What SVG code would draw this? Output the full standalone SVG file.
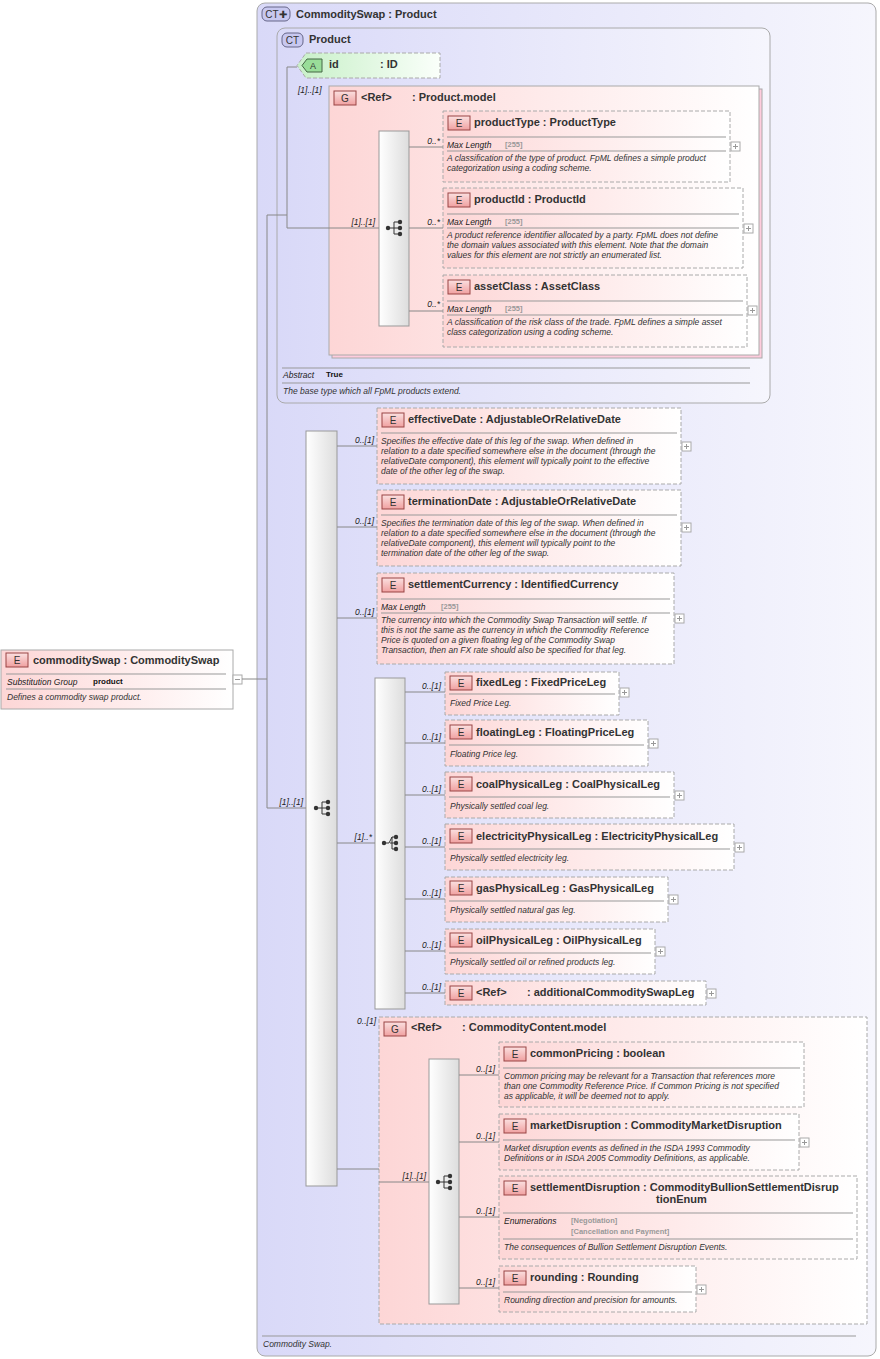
<svg xmlns="http://www.w3.org/2000/svg" width="880" height="1359" viewBox="0 0 880 1359">
<style>
text{font-family:"Liberation Sans",Arial,sans-serif;fill:#333}
.t{font-size:11px;font-weight:bold}
.d{font-size:8.5px;font-style:italic}
.k{font-size:8.5px;font-style:italic;fill:#222}
.v{font-size:7.5px;fill:#999;font-weight:bold}
.vb{font-size:8px;font-weight:bold;fill:#111}
.c{font-size:8.5px;font-style:italic;fill:#222}
.el{fill:url(#pk);stroke:#aaa;stroke-dasharray:4,2}
.sep{stroke:#999;stroke-width:1}
.ln{stroke:#888;fill:none}
.seq{fill:url(#gr);stroke:#999}
</style>
<defs>
<linearGradient id="pk" x1="0" x2="1"><stop offset="0" stop-color="#fdd6d6"/><stop offset="1" stop-color="#fff"/></linearGradient>
<linearGradient id="lv" x1="0" x2="1"><stop offset="0" stop-color="#d9d9f8"/><stop offset="1" stop-color="#f6f6fd"/></linearGradient>
<linearGradient id="gn" x1="0" x2="1"><stop offset="0" stop-color="#c8f0c8"/><stop offset="1" stop-color="#fafffa"/></linearGradient>
<linearGradient id="gr" x1="0" x2="1"><stop offset="0" stop-color="#fff"/><stop offset="1" stop-color="#ddd"/></linearGradient>
<linearGradient id="bg" x1="0" y1="0" x2="0" y2="1"><stop offset="0" stop-color="#fbe0e0"/><stop offset="1" stop-color="#f0a0a0"/></linearGradient>
<g id="seqi"><circle cx="-6" cy="0" r="2.2" fill="#333"/><path d="M-6 0H0M0 -6V6M0 -6H5M0 0H5M0 6H5" stroke="#333"/><circle cx="6" cy="-6" r="2.2" fill="#333"/><circle cx="6" cy="0" r="2.2" fill="#333"/><circle cx="6" cy="6" r="2.2" fill="#333"/></g>
<g id="choi"><circle cx="-6" cy="0" r="2.2" fill="#333"/><path d="M-6 0H-1M-1 0L2 -6M2 -6H5M0 0H5M2 6H5M2 -6V6" stroke="#333"/><circle cx="6" cy="-6" r="2.2" fill="#333"/><circle cx="6" cy="0" r="2.2" fill="#333"/><circle cx="6" cy="6" r="2.2" fill="#333"/></g>
<g id="plus"><rect x="0" y="0" width="9" height="9" fill="#fff" stroke="#aaa"/><path d="M2 4.5H7M4.5 2V7" stroke="#999"/></g>
<g id="eb"><rect x="0" y="0" width="22" height="14" fill="url(#bg)" stroke="#944"/><text x="11" y="11" text-anchor="middle" style="font-size:10px;fill:#333">E</text></g>
</defs>
<rect width="880" height="1359" fill="#fff"/>

<g id="commoditySwapCT">
<rect x="257" y="3" width="619" height="1353" rx="8" fill="url(#lv)" stroke="#aaa"/>
<rect x="262" y="7" width="28" height="14" rx="5" fill="#c8c8f0" stroke="#668"/>
<text x="276" y="18" text-anchor="middle" style="font-size:10px">CT✚</text>
<text x="296" y="18" class="t">CommoditySwap : Product</text>
<line x1="262" y1="1336" x2="856" y2="1336" class="sep"/>
<text x="263" y="1347" class="d">Commodity Swap.</text>
</g>

<g id="productCT">
<rect x="277" y="28" width="493" height="375" rx="8" fill="url(#lv)" stroke="#aaa"/>
<rect x="282" y="33" width="21" height="14" rx="5" fill="#c8c8f0" stroke="#668"/>
<text x="292.5" y="44" text-anchor="middle" style="font-size:10px">CT</text>
<text x="309" y="43" class="t">Product</text>
<line x1="282" y1="368" x2="750" y2="368" class="sep"/>
<text x="283" y="378" class="k">Abstract</text><text x="326" y="377" class="vb">True</text>
<line x1="282" y1="383" x2="750" y2="383" class="sep"/>
<text x="283" y="394" class="d">The base type which all FpML products extend.</text>
</g>

<g id="attr-id">
<path d="M306 53H440V78H306L297 65.5Z" fill="url(#gn)" stroke="#aaa" stroke-dasharray="4,2"/>
<path d="M307 59H322V72H307L302 65.5Z" fill="#9d9" stroke="#464"/>
<text x="313" y="69" text-anchor="middle" style="font-size:9px">A</text>
<text x="329" y="68" class="t">id</text><text x="380" y="68" class="t">: ID</text>
</g>

<g id="productModel">
<rect x="332" y="89" width="430" height="269" fill="#fcd" stroke="#aaa"/>
<rect x="329" y="86" width="430" height="269" fill="url(#pk)" stroke="#aaa"/>
<rect x="334" y="91" width="22" height="14" fill="url(#bg)" stroke="#944"/>
<text x="345" y="102" text-anchor="middle" style="font-size:10px">G</text>
<text x="361" y="101" class="t">&lt;Ref&gt;</text><text x="412" y="101" class="t">: Product.model</text>
<rect x="379" y="131" width="30" height="195" class="seq"/>
<use href="#seqi" x="394" y="228"/>
</g>

<g id="productType">
<rect x="443" y="111" width="287" height="71" class="el"/>
<use href="#eb" x="448" y="116"/>
<text x="474" y="126" class="t">productType : ProductType</text>
<line x1="447" y1="137" x2="726" y2="137" class="sep"/>
<text x="447" y="148" class="k">Max Length</text><text x="505" y="147" class="v">[255]</text>
<line x1="447" y1="151" x2="726" y2="151" class="sep"/>
<text x="447" y="161" class="d">A classification of the type of product. FpML defines a simple product</text>
<text x="447" y="171" class="d">categorization using a coding scheme.</text>
<use href="#plus" x="731" y="142"/>
</g>
<g id="productId">
<rect x="443" y="188" width="300" height="80" class="el"/>
<use href="#eb" x="448" y="193"/>
<text x="474" y="203" class="t">productId : ProductId</text>
<line x1="447" y1="214" x2="739" y2="214" class="sep"/>
<text x="447" y="225" class="k">Max Length</text><text x="505" y="224" class="v">[255]</text>
<line x1="447" y1="228" x2="739" y2="228" class="sep"/>
<text x="447" y="238" class="d">A product reference identifier allocated by a party. FpML does not define</text>
<text x="447" y="248" class="d">the domain values associated with this element. Note that the domain</text>
<text x="447" y="258" class="d">values for this element are not strictly an enumerated list.</text>
<use href="#plus" x="744" y="224"/>
</g>
<g id="assetClass">
<rect x="443" y="275" width="304" height="72" class="el"/>
<use href="#eb" x="448" y="280"/>
<text x="474" y="290" class="t">assetClass : AssetClass</text>
<line x1="447" y1="301" x2="743" y2="301" class="sep"/>
<text x="447" y="312" class="k">Max Length</text><text x="505" y="311" class="v">[255]</text>
<line x1="447" y1="315" x2="743" y2="315" class="sep"/>
<text x="447" y="325" class="d">A classification of the risk class of the trade. FpML defines a simple asset</text>
<text x="447" y="335" class="d">class categorization using a coding scheme.</text>
<use href="#plus" x="748" y="306"/>
</g>

<g id="commoditySwap">
<rect x="1" y="650" width="232" height="59" fill="url(#pk)" stroke="#aaa"/>
<use href="#eb" x="6" y="653"/>
<text x="33" y="664" class="t">commoditySwap : CommoditySwap</text>
<line x1="6" y1="674" x2="226" y2="674" class="sep"/>
<text x="7" y="685" class="k">Substitution Group</text><text x="93" y="684" class="vb">product</text>
<line x1="6" y1="689" x2="226" y2="689" class="sep"/>
<text x="7" y="700" class="d">Defines a commodity swap product.</text>
<rect x="233" y="675" width="9" height="9" fill="#fff" stroke="#aaa"/><path d="M235 679.5H240" stroke="#999"/>
</g>

<g id="mainSeq">
<rect x="306" y="431" width="31" height="755" class="seq"/>
<use href="#seqi" x="322" y="808"/>
</g>

<g id="effectiveDate">
<rect x="377" y="408" width="304" height="76" class="el"/>
<use href="#eb" x="382" y="413"/>
<text x="408" y="423" class="t">effectiveDate : AdjustableOrRelativeDate</text>
<line x1="381" y1="433" x2="677" y2="433" class="sep"/>
<text x="381" y="444" class="d">Specifies the effective date of this leg of the swap. When defined in</text>
<text x="381" y="454" class="d">relation to a date specified somewhere else in the document (through the</text>
<text x="381" y="464" class="d">relativeDate component), this element will typically point to the effective</text>
<text x="381" y="474" class="d">date of the other leg of the swap.</text>
<use href="#plus" x="682" y="442"/>
</g>
<g id="terminationDate">
<rect x="377" y="490" width="304" height="76" class="el"/>
<use href="#eb" x="382" y="495"/>
<text x="408" y="505" class="t">terminationDate : AdjustableOrRelativeDate</text>
<line x1="381" y1="515" x2="677" y2="515" class="sep"/>
<text x="381" y="526" class="d">Specifies the termination date of this leg of the swap. When defined in</text>
<text x="381" y="536" class="d">relation to a date specified somewhere else in the document (through the</text>
<text x="381" y="546" class="d">relativeDate component), this element will typically point to the</text>
<text x="381" y="556" class="d">termination date of the other leg of the swap.</text>
<use href="#plus" x="682" y="523"/>
</g>
<g id="settlementCurrency">
<rect x="377" y="573" width="297" height="91" class="el"/>
<use href="#eb" x="382" y="578"/>
<text x="408" y="588" class="t">settlementCurrency : IdentifiedCurrency</text>
<line x1="381" y1="599" x2="670" y2="599" class="sep"/>
<text x="381" y="610" class="k">Max Length</text><text x="441" y="609" class="v">[255]</text>
<line x1="381" y1="613" x2="670" y2="613" class="sep"/>
<text x="381" y="623" class="d">The currency into which the Commodity Swap Transaction will settle. If</text>
<text x="381" y="633" class="d">this is not the same as the currency in which the Commodity Reference</text>
<text x="381" y="643" class="d">Price is quoted on a given floating leg of the Commodity Swap</text>
<text x="381" y="653" class="d">Transaction, then an FX rate should also be specified for that leg.</text>
<use href="#plus" x="675" y="614"/>
</g>

<g id="choice">
<rect x="375" y="678" width="30" height="331" class="seq"/>
<use href="#choi" x="390" y="843"/>
</g>

<g id="fixedLeg">
<rect x="445" y="672" width="174" height="43" class="el"/>
<use href="#eb" x="450" y="676"/>
<text x="476" y="686" class="t">fixedLeg : FixedPriceLeg</text>
<line x1="449" y1="694" x2="615" y2="694" class="sep"/>
<text x="450" y="706" class="d">Fixed Price Leg.</text>
<use href="#plus" x="620" y="688"/>
</g>
<g id="floatingLeg">
<rect x="445" y="720" width="203" height="46" class="el"/>
<use href="#eb" x="450" y="725"/>
<text x="476" y="736" class="t">floatingLeg : FloatingPriceLeg</text>
<line x1="449" y1="745" x2="644" y2="745" class="sep"/>
<text x="450" y="757" class="d">Floating Price leg.</text>
<use href="#plus" x="649" y="739"/>
</g>
<g id="coalPhysicalLeg">
<rect x="445" y="772" width="229" height="46" class="el"/>
<use href="#eb" x="450" y="777"/>
<text x="476" y="788" class="t">coalPhysicalLeg : CoalPhysicalLeg</text>
<line x1="449" y1="797" x2="670" y2="797" class="sep"/>
<text x="450" y="809" class="d">Physically settled coal leg.</text>
<use href="#plus" x="675" y="791"/>
</g>
<g id="electricityPhysicalLeg">
<rect x="445" y="824" width="289" height="46" class="el"/>
<use href="#eb" x="450" y="829"/>
<text x="476" y="840" class="t">electricityPhysicalLeg : ElectricityPhysicalLeg</text>
<line x1="449" y1="849" x2="730" y2="849" class="sep"/>
<text x="450" y="861" class="d">Physically settled electricity leg.</text>
<use href="#plus" x="735" y="843"/>
</g>
<g id="gasPhysicalLeg">
<rect x="445" y="877" width="223" height="45" class="el"/>
<use href="#eb" x="450" y="881"/>
<text x="476" y="892" class="t">gasPhysicalLeg : GasPhysicalLeg</text>
<line x1="449" y1="901" x2="664" y2="901" class="sep"/>
<text x="450" y="913" class="d">Physically settled natural gas leg.</text>
<use href="#plus" x="669" y="895"/>
</g>
<g id="oilPhysicalLeg">
<rect x="445" y="929" width="210" height="45" class="el"/>
<use href="#eb" x="450" y="933"/>
<text x="476" y="944" class="t">oilPhysicalLeg : OilPhysicalLeg</text>
<line x1="449" y1="953" x2="651" y2="953" class="sep"/>
<text x="450" y="965" class="d">Physically settled oil or refined products leg.</text>
<use href="#plus" x="656" y="947"/>
</g>
<g id="additionalCommoditySwapLeg">
<rect x="445" y="981" width="261" height="24" class="el"/>
<use href="#eb" x="450" y="986"/>
<text x="476" y="996" class="t">&lt;Ref&gt;</text><text x="527" y="996" class="t">: additionalCommoditySwapLeg</text>
<use href="#plus" x="707" y="989"/>
</g>

<g id="commodityContentModel">
<rect x="379" y="1017" width="488" height="307" fill="url(#pk)" stroke="#aaa" stroke-dasharray="4,2"/>
<rect x="384" y="1022" width="22" height="14" fill="url(#bg)" stroke="#944"/>
<text x="395" y="1033" text-anchor="middle" style="font-size:10px">G</text>
<text x="411" y="1031" class="t">&lt;Ref&gt;</text><text x="462" y="1031" class="t">: CommodityContent.model</text>
<rect x="429" y="1059" width="30" height="245" class="seq"/>
<use href="#seqi" x="444" y="1182"/>
</g>
<g id="commonPricing">
<rect x="499" y="1042" width="305" height="65" class="el"/>
<use href="#eb" x="504" y="1047"/>
<text x="530" y="1057" class="t">commonPricing : boolean</text>
<line x1="503" y1="1068" x2="800" y2="1068" class="sep"/>
<text x="504" y="1079" class="d">Common pricing may be relevant for a Transaction that references more</text>
<text x="504" y="1089" class="d">than one Commodity Reference Price. If Common Pricing is not specified</text>
<text x="504" y="1099" class="d">as applicable, it will be deemed not to apply.</text>
</g>
<g id="marketDisruption">
<rect x="499" y="1114" width="300" height="56" class="el"/>
<use href="#eb" x="504" y="1119"/>
<text x="530" y="1129" class="t">marketDisruption : CommodityMarketDisruption</text>
<line x1="503" y1="1140" x2="795" y2="1140" class="sep"/>
<text x="504" y="1151" class="d">Market disruption events as defined in the ISDA 1993 Commodity</text>
<text x="504" y="1161" class="d">Definitions or in ISDA 2005 Commodity Definitions, as applicable.</text>
<use href="#plus" x="800" y="1138"/>
</g>
<g id="settlementDisruption">
<rect x="499" y="1176" width="358" height="83" class="el"/>
<use href="#eb" x="504" y="1181"/>
<text x="530" y="1191" class="t">settlementDisruption : CommodityBullionSettlementDisrup</text>
<text x="656" y="1203" class="t">tionEnum</text>
<line x1="503" y1="1213" x2="853" y2="1213" class="sep"/>
<text x="504" y="1224" class="k">Enumerations</text>
<text x="571" y="1223" class="v">[Negotiation]</text>
<text x="571" y="1234" class="v">[Cancellation and Payment]</text>
<line x1="503" y1="1239" x2="853" y2="1239" class="sep"/>
<text x="504" y="1250" class="d">The consequences of Bullion Settlement Disruption Events.</text>
</g>
<g id="rounding">
<rect x="499" y="1266" width="197" height="46" class="el"/>
<use href="#eb" x="504" y="1271"/>
<text x="530" y="1281" class="t">rounding : Rounding</text>
<line x1="503" y1="1292" x2="692" y2="1292" class="sep"/>
<text x="504" y="1303" class="d">Rounding direction and precision for amounts.</text>
<use href="#plus" x="697" y="1285"/>
</g>

<g id="connectors" class="ln">
<path d="M242 679H267M267 215V808H306M267 215H287M287 67V228H379M287 67H297"/>
<path d="M409 147H443M409 228H443M409 311H443"/>
<path d="M337 446H377M337 527H377M337 618H377M337 843H375M337 1169H379M379 1182H429"/>
<path d="M405 692H445M405 743H445M405 795H445M405 847H445M405 899H445M405 951H445M405 993H445"/>
<path d="M459 1075H499M459 1142H499M459 1217H499M459 1288H499"/>
</g>
<g id="labels">
<text x="298" y="93" class="c">[1]..[1]</text>
<text x="375" y="225" class="c" text-anchor="end">[1]..[1]</text>
<text x="440" y="144" class="c" text-anchor="end">0..*</text>
<text x="440" y="225" class="c" text-anchor="end">0..*</text>
<text x="440" y="307" class="c" text-anchor="end">0..*</text>
<text x="303" y="805" class="c" text-anchor="end">[1]..[1]</text>
<text x="374" y="443" class="c" text-anchor="end">0..[1]</text>
<text x="374" y="524" class="c" text-anchor="end">0..[1]</text>
<text x="374" y="615" class="c" text-anchor="end">0..[1]</text>
<text x="372" y="840" class="c" text-anchor="end">[1]..*</text>
<text x="376" y="1024" class="c" text-anchor="end">0..[1]</text>
<text x="441" y="689" class="c" text-anchor="end">0..[1]</text>
<text x="441" y="740" class="c" text-anchor="end">0..[1]</text>
<text x="441" y="792" class="c" text-anchor="end">0..[1]</text>
<text x="441" y="844" class="c" text-anchor="end">0..[1]</text>
<text x="441" y="896" class="c" text-anchor="end">0..[1]</text>
<text x="441" y="948" class="c" text-anchor="end">0..[1]</text>
<text x="441" y="990" class="c" text-anchor="end">0..[1]</text>
<text x="426" y="1179" class="c" text-anchor="end">[1]..[1]</text>
<text x="495" y="1072" class="c" text-anchor="end">0..[1]</text>
<text x="495" y="1139" class="c" text-anchor="end">0..[1]</text>
<text x="495" y="1214" class="c" text-anchor="end">0..[1]</text>
<text x="495" y="1285" class="c" text-anchor="end">0..[1]</text>
</g>
</svg>
